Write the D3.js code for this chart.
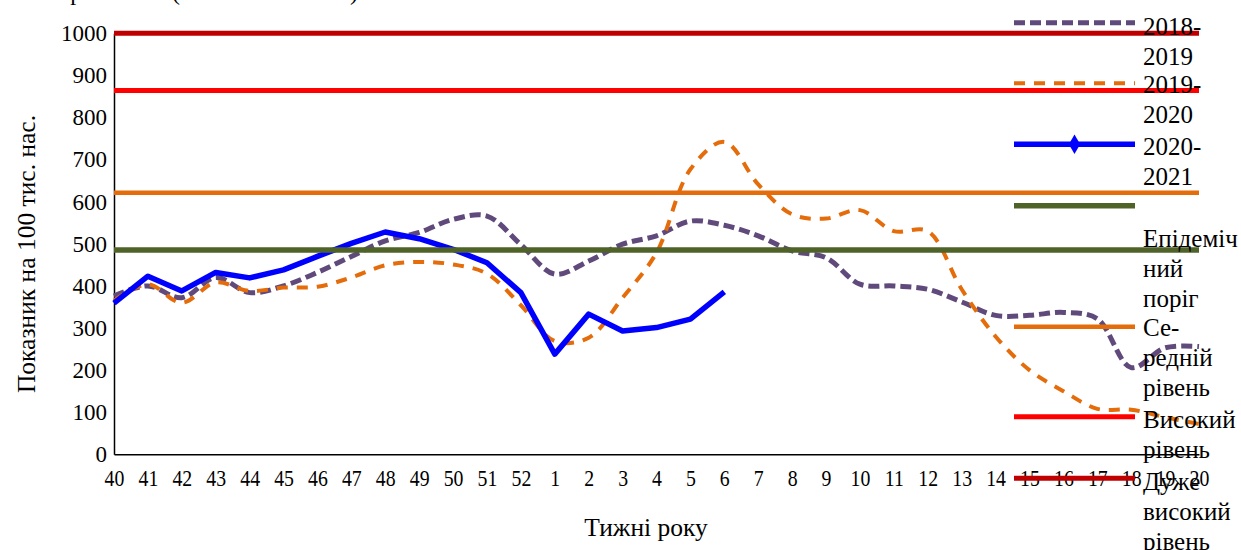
<!DOCTYPE html>
<html><head><meta charset="utf-8">
<script src="https://cdn.jsdelivr.net/npm/d3@7"></script>
<style>
body{margin:0;background:#fff;}
svg text{font-family:"Liberation Serif","Times New Roman","DejaVu Serif",serif;}
</style>
</head><body>
<svg id="c" width="1241" height="550"></svg>
<script>
// ---- data ----
const weeks = ["40","41","42","43","44","45","46","47","48","49","50","51","52",
  "1","2","3","4","5","6","7","8","9","10","11","12","13","14","15","16","17","18","19","20"];
const yTicks = [0,100,200,300,400,500,600,700,800,900,1000];
const season1819 = [376,400,372,420,384,400,432,470,507,527,558,566,498,428,459,499,519,554,544,519,483,467,404,400,392,362,330,330,337,322,206,253,256];
const season1920 = [365,404,360,408,388,396,398,420,449,457,451,429,354,269,277,372,479,677,742,641,570,560,580,530,530,392,280,200,150,108,106,88,72];
const season2021 = [359,423,388,432,419,438,470,501,528,512,487,455,384,238,333,293,301,321,386];
const seriesNames = [["2018-","2019"],["2019-","2020"],["2020-","2021"]];
const thresholdValues = [485,621,864,1000];
const thresholdNames = [["Епідеміч","ний","поріг"],["Се-","редній","рівень"],["Високий","рівень"],["Дуже","високий","рівень"]];
const yTitle = "Показник на 100 тис. нас.";
const xTitle = "Тижні року";
const topTitle = "Грип/ГРВІ (сезон 2018–2021)";

// ---- styles ----
const FONT = "Liberation Serif";
const seriesStyles = [
  {color:"#604A7B", width:5, dash:"11,5", curve:d3.curveCatmullRom.alpha(0.5)},
  {color:"#E46C0A", width:4, dash:"11,9", curve:d3.curveCatmullRom.alpha(0.5)},
  {color:"#0000FF", width:5.5, dash:null, curve:d3.curveLinear}
];
const thresholdStyles = [
  {color:"#4F6228", width:5.5},
  {color:"#E46C0A", width:4.5},
  {color:"#FF0000", width:5},
  {color:"#C00000", width:5}
];

const svg = d3.select("#c").attr("font-family",FONT);
const x = d3.scalePoint().domain(weeks).range([114,1199]);
const y = d3.scaleLinear().domain([0,1000]).range([454.3,33.3]);

// top title (mostly cut off)
svg.append("text").attr("x",58).attr("y",0).attr("font-size",24).attr("font-family",FONT).text(topTitle);

// axes
const gy = svg.append("g").attr("transform","translate(114,0)")
  .call(d3.axisLeft(y).tickValues(yTicks).tickSize(0).tickPadding(7).tickFormat(d3.format("d")));
gy.attr("font-family",FONT);
gy.select(".domain").attr("stroke","#000").attr("stroke-width",1.5);
gy.selectAll("text").attr("font-size",23).attr("fill","#000");

const gx = svg.append("g").attr("transform","translate(0,454.3)")
  .call(d3.axisBottom(x).tickSize(0).tickPadding(15));
gx.attr("font-family",FONT);
gx.select(".domain").attr("stroke","#000").attr("stroke-width",1.5);
gx.selectAll("text").attr("font-size",23).attr("fill","#000").attr("transform","scale(0.86,1)");

// series
const allSeries = [season1819, season1920, season2021];
allSeries.forEach((vals,k)=>{
  const st = seriesStyles[k];
  const line = d3.line().x((d,i)=>x(weeks[i])).y(d=>y(d)).curve(st.curve);
  svg.append("path").datum(vals).attr("d",line).attr("fill","none")
    .attr("stroke",st.color).attr("stroke-width",st.width)
    .attr("stroke-dasharray",st.dash).attr("stroke-linejoin","round");
});

// threshold lines
thresholdValues.forEach((v,k)=>{
  svg.append("line").attr("x1",x(weeks[0])).attr("x2",x(weeks[weeks.length-1]))
    .attr("y1",y(v)).attr("y2",y(v))
    .attr("stroke",thresholdStyles[k].color).attr("stroke-width",thresholdStyles[k].width);
});

// legend
const legSymY = [22.7,83.3,144.3,205.7,326.7,416.7,478.3];
const legTextY = [35,93,155,247,336,428,490];
const legLH = 30;
const legItems = [
  ...seriesNames.map((n,k)=>({lines:n, st:seriesStyles[k], marker:k===2})),
  ...thresholdNames.map((n,k)=>({lines:n, st:Object.assign({dash:null},thresholdStyles[k]), marker:false}))
];
const lg = svg.append("g");
legItems.forEach((it,k)=>{
  lg.append("line").attr("x1",1014).attr("x2",1135).attr("y1",legSymY[k]).attr("y2",legSymY[k])
    .attr("stroke",it.st.color).attr("stroke-width",it.st.width).attr("stroke-dasharray",it.st.dash);
  if(it.marker){
    lg.append("path").attr("d",d3.symbol(d3.symbolDiamond,110)())
      .attr("transform",`translate(1074.5,${legSymY[k]})`).attr("fill",it.st.color);
  }
  const t = lg.append("text").attr("font-size",25).attr("fill","#000").attr("font-family",FONT);
  it.lines.forEach((s,j)=>{
    t.append("tspan").attr("x",1143).attr("y",legTextY[k]+j*legLH).text(s);
  });
});

// axis titles
svg.append("text").attr("transform","translate(35,254) rotate(-90)").attr("text-anchor","middle")
  .attr("font-size",25.5).attr("font-family",FONT).text(yTitle);
svg.append("text").attr("x",646).attr("y",536).attr("text-anchor","middle")
  .attr("font-size",25.5).attr("font-family",FONT).text(xTitle);
</script>
</body></html>
